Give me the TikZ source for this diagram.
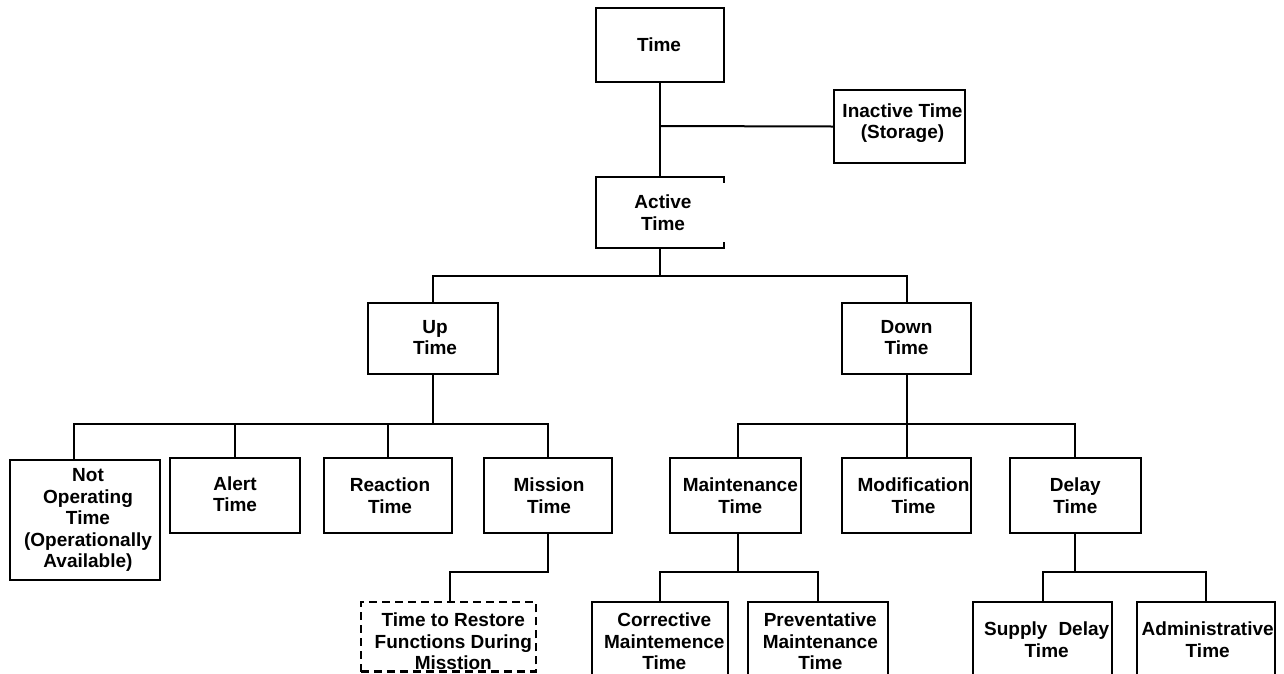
\documentclass[tikz,border=0pt]{standalone}
\usepackage{fontspec}
\setmainfont{Liberation Sans}
\begin{document}
\begin{tikzpicture}[x=1pt,y=-1pt,
  box/.style={draw, line width=2pt, inner sep=0pt},
  dbox/.style={draw, line width=2.2pt, inner sep=0pt, dash pattern=on 8pt off 5pt},
  txt/.style={inner sep=0pt, align=center, font=\bfseries\fontsize{19pt}{21.5pt}\selectfont},
  conn/.style={line width=2pt}]
\fill[white] (0,0) rectangle (1284,673);
\path[use as bounding box] (0,0) rectangle (1284,673);

% boxes
\node[box, minimum width=128pt, minimum height=74pt] (time) at (660,45) {};
\node[box, minimum width=131pt, minimum height=73pt] (inactive) at (899.5,126.5) {};
\node[inner sep=0pt, minimum width=128pt, minimum height=71pt] (active) at (660,212.5) {};
\node[box, minimum width=130pt, minimum height=71pt] (up) at (433,338.5) {};
\node[box, minimum width=128.4pt, minimum height=71pt] (down) at (906.5,338.5) {};
\node[box, minimum width=150pt, minimum height=120pt] (notop) at (85,520) {};
\node[box, minimum width=130pt, minimum height=75pt] (alert) at (235,495.5) {};
\node[box, minimum width=128.6pt, minimum height=75pt] (reaction) at (388,495.5) {};
\node[box, minimum width=128.3pt, minimum height=75pt] (mission) at (548,495.5) {};
\node[box, minimum width=130.7pt, minimum height=75pt] (maint) at (735.3,495.5) {};
\node[box, minimum width=128.4pt, minimum height=75pt] (modif) at (906.5,495.5) {};
\node[box, minimum width=130.7pt, minimum height=75pt] (delay) at (1075.3,495.5) {};
\node[dbox, minimum width=174.7pt, minimum height=69.5pt] (restore) at (448.3,636.8) {};
\node[box, minimum width=136pt, minimum height=78pt] (corrective) at (660.3,641.3) {};
\node[box, minimum width=140pt, minimum height=78pt] (prevent) at (818.3,641.3) {};
\node[box, minimum width=139.3pt, minimum height=75pt] (supply) at (1042.7,639.5) {};
\node[box, minimum width=138pt, minimum height=75pt] (admin) at (1205.7,639.5) {};

% active box: right side only short stubs
\draw[conn] ([yshift=-6pt]active.north east) -- (active.north east) -- (active.north west)
  -- (active.south west) -- (active.south east) -- ([yshift=6pt]active.south east);

% texts
\node[txt] (timet) at ([xshift=-1pt]time.center) {Time};
\node[txt] (inactivet) at ([xshift=3pt,yshift=3.5pt]inactive.center) {Inactive Time\\(Storage)};
\node[txt] (activet) at ([xshift=3pt]active.center) {Active\\Time};
\node[txt] (upt) at ([xshift=2pt,yshift=1pt]up.center) {Up\\Time};
\node[txt] (downt) at ([yshift=1pt]down.center) {Down\\Time};
\node[txt] (notopt) at ([xshift=3pt]notop.center) {Not\\Operating\\Time\\(Operationally\\Available)};
\node[txt] (alertt) at ([yshift=1.5pt]alert.center) {Alert\\Time};
\node[txt] (reactiont) at ([xshift=2pt]reaction.center) {Reaction\\Time};
\node[txt] (missiont) at ([xshift=1pt]mission.center) {Mission\\Time};
\node[txt] (maintt) at ([xshift=5pt]maint.center) {Maintenance\\Time};
\node[txt] (modift) at ([xshift=7pt]modif.center) {Modification\\Time};
\node[txt] (delayt) at (delay.center) {Delay\\Time};
\node[txt] (restoret) at ([xshift=5pt,yshift=-4.6pt]restore.center) {Time to Restore\\Functions During\\Misstion};
\node[txt] (correctivet) at ([xshift=4pt]corrective.center) {Corrective\\Maintemence\\Time};
\node[txt] (preventt) at ([xshift=2pt]prevent.center) {Preventative\\Maintenance\\Time};
\node[txt] (supplyt) at ([xshift=4pt]supply.center) {\makebox[125pt][s]{Supply Delay}\\Time};
\node[txt] (admint) at ([xshift=2pt]admin.center) {Administrative\\Time};

% junction coordinates
\coordinate (j1) at (660,126);
\coordinate (bar1) at (660,276);
\coordinate (bar2) at (433,424.3);
\coordinate (bar3) at (906.5,424.3);
\coordinate (bar4) at (500,572.3);
\coordinate (bar5) at (738,572.3);
\coordinate (bar6) at (1075.3,572.3);

% connectors
\draw[conn] (time.south) -- (active.north);
\draw[conn] (j1) -- (inactive.west);
\draw[conn] (active.south) -- (bar1);
\draw[conn] (up.north) |- (bar1) -| (down.north);

\draw[conn] (up.south) -- (bar2);
\draw[conn] ([xshift=-11pt]notop.north) |- (bar2) -| (mission.north);
\draw[conn] (alert.north) -- (alert.north |- bar2);
\draw[conn] (reaction.north) -- (reaction.north |- bar2);

\draw[conn] (down.south) -- (modif.north);
\draw[conn] ([xshift=2.7pt]maint.north) |- (bar3) -| (delay.north);

\draw[conn] (mission.south) |- (bar4) -| ([xshift=1.7pt]restore.north);

\draw[conn] ([xshift=2.7pt]maint.south) -- (bar5);
\draw[conn] (corrective.north) |- (bar5) -| (prevent.north);

\draw[conn] (delay.south) -- (bar6);
\draw[conn] (supply.north) |- (bar6) -| (admin.north);
\end{tikzpicture}
\end{document}
